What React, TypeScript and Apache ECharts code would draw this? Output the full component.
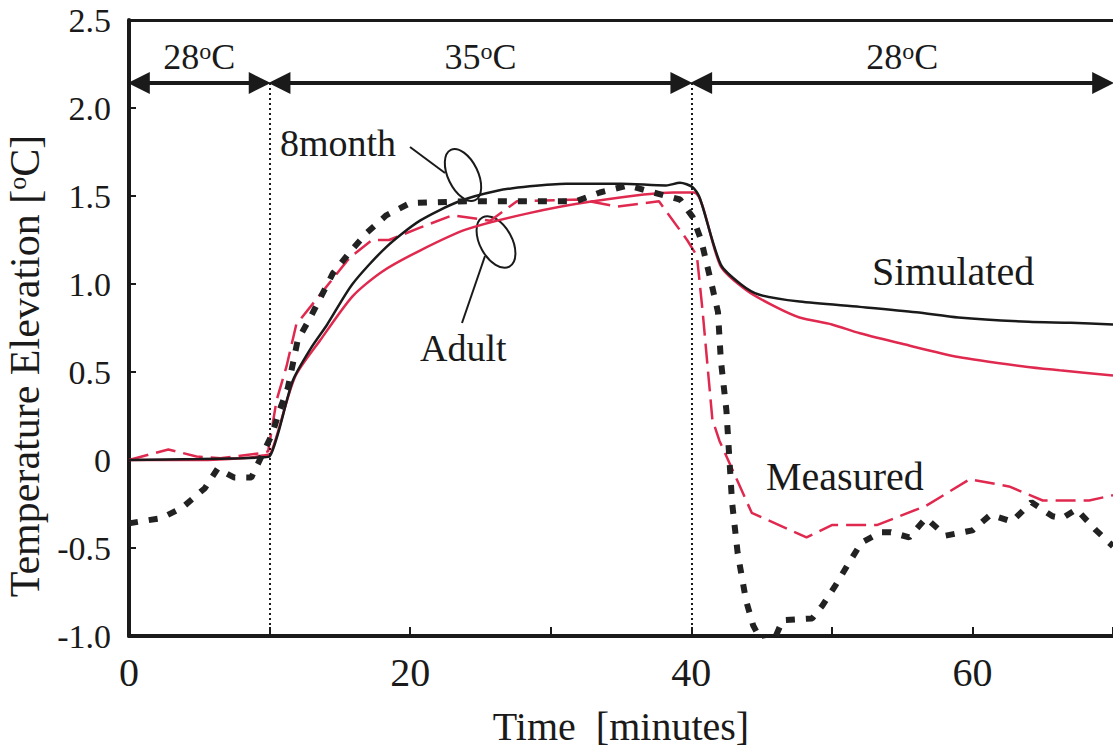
import React, { useEffect, useRef } from 'react';
import * as echarts from 'echarts';

const FONT = '"Liberation Serif", "Times New Roman", serif';
const RED = '#e0294f';
const BLACK = '#1a1a1a';

// Simulated, 8 month (black solid)
const sim8month: number[][] = [
  [0, 0], [5, 0.005], [8, 0.01], [9.5, 0.015], [10, 0.02], [10.6, 0.15], [11.65, 0.45], [12.9, 0.63],
  [14.1, 0.77], [15.9, 1.0], [18.3, 1.21], [20.7, 1.36], [23.5, 1.47], [26.2, 1.53], [28.5, 1.555],
  [31.1, 1.57], [35, 1.57], [38.2, 1.56], [39.2, 1.575], [40.1, 1.55], [40.6, 1.49], [42.1, 1.11],
  [43.5, 1.0], [44.8, 0.94], [47.7, 0.9], [52, 0.87], [56, 0.84], [59, 0.81], [64, 0.785], [67, 0.78], [70, 0.77],
];

// Simulated, adult (red solid)
const simAdult: number[][] = [
  [0, 0], [5, 0], [8, 0.01], [9.5, 0.025], [10.1, 0.04], [11.8, 0.47], [13.6, 0.68], [15.9, 0.93],
  [18, 1.07], [20.7, 1.19], [24, 1.31], [28.3, 1.4], [33, 1.47], [38.7, 1.52], [40.2, 1.52],
  [42.1, 1.1], [44, 0.96], [46, 0.87], [47.7, 0.81], [50, 0.77], [52, 0.72], [55, 0.66], [59, 0.585],
  [63.8, 0.53], [66.2, 0.51], [70, 0.48],
];

// Measured, 8 month (black thick dashed)
const meas8month: number[][] = [
  [0, -0.36], [2.3, -0.33], [3.8, -0.27], [5.4, -0.16], [6.3, -0.05], [7.5, -0.1], [8.7, -0.1],
  [10.2, 0.15], [10.7, 0.28], [11.3, 0.41], [12, 0.68], [12.9, 0.81], [14.5, 1.06], [15.7, 1.18],
  [16.9, 1.29], [18.3, 1.39], [20, 1.46], [24, 1.47], [31.8, 1.47], [33.5, 1.52], [35.5, 1.56],
  [37.3, 1.52], [39.2, 1.48], [40.1, 1.38], [40.7, 1.25], [41.5, 0.98], [41.9, 0.84], [42.1, 0.57],
  [42.5, 0.28], [42.7, 0.02], [42.9, -0.24], [43.3, -0.53], [43.9, -0.8], [44.4, -0.94], [45, -1.03],
  [45.8, -1.04], [46.5, -0.91], [48.6, -0.9], [49.3, -0.83], [50.2, -0.72], [51.1, -0.6], [52.1, -0.47],
  [53.5, -0.41], [54.2, -0.41], [55.5, -0.44], [56.7, -0.33], [58.1, -0.43], [60, -0.4], [61.3, -0.31],
  [62.8, -0.35], [64.2, -0.24], [65.7, -0.32], [66.4, -0.33], [67.4, -0.28], [68.8, -0.4], [70, -0.49],
];

// Measured, adult (red dashed)
const measAdult: number[][] = [
  [0, 0], [2.8, 0.06], [4.8, 0.02], [6.5, 0.01], [9.5, 0.04], [9.9, 0.05], [10.5, 0.34], [11.2, 0.53],
  [11.9, 0.77], [13.3, 0.91], [15.7, 1.15], [17.3, 1.25], [18.5, 1.25], [20.7, 1.32], [23, 1.39],
  [25.7, 1.36], [27.6, 1.47], [32.1, 1.48], [34.7, 1.44], [37.7, 1.47], [39.7, 1.25], [40.4, 1.16],
  [40.8, 0.85], [41.5, 0.23], [42, 0.11], [44.3, -0.3], [48.2, -0.44], [50, -0.37], [53.2, -0.37],
  [56.7, -0.26], [59.8, -0.11], [62.6, -0.15], [65, -0.23], [68.3, -0.23], [70, -0.2],
];

// Temperature phases: [start, end, temperature]
const phases: [number, number, string][] = [
  [0, 10, '28'],
  [10, 40, '35'],
  [40, 70, '28'],
];
const phaseArrowY = 2.142;
const phaseBoundaries = [10, 40];

const X_MIN = 0, X_MAX = 70, X_INT = 10;
const Y_MIN = -1.0, Y_MAX = 2.5, Y_INT = 0.5;

function buildOption() {
  const arrowGap = 0.7;
  const arrowData = phases.map(([a, b, t]) => [
    { name: t, coord: [a + arrowGap, phaseArrowY] },
    { coord: [b - arrowGap, phaseArrowY] },
  ]);
  const dottedData = phaseBoundaries.map((x) => [
    { coord: [x, phaseArrowY] },
    { coord: [x, Y_MIN] },
  ]);

  return {
    animation: false,
    backgroundColor: '#ffffff',
    grid: { left: 129, right: 0, top: 20, bottom: 118, containLabel: false, outerBoundsMode: 'none' },
    xAxis: [
      {
        type: 'value',
        min: X_MIN,
        max: X_MAX,
        interval: X_INT,
        name: 'Time  [minutes]',
        nameLocation: 'middle',
        nameGap: 70,
        nameTextStyle: { fontFamily: FONT, fontSize: 40, color: BLACK },
        axisLine: { show: true, onZero: false, lineStyle: { color: BLACK, width: 4 } },
        axisTick: { show: true, inside: true, length: 9, lineStyle: { color: BLACK, width: 2 } },
        axisLabel: {
          fontFamily: FONT,
          fontSize: 40,
          color: BLACK,
          margin: 16,
          formatter: (v: number) => (v % 20 === 0 && v < X_MAX ? String(v) : ''),
        },
        splitLine: { show: false },
      },
      {
        type: 'value',
        position: 'top',
        min: X_MIN,
        max: X_MAX,
        interval: X_INT,
        axisLine: { show: true, onZero: false, lineStyle: { color: BLACK, width: 3 } },
        axisTick: { show: false },
        axisLabel: { show: false },
        splitLine: { show: false },
      },
    ],
    yAxis: {
      type: 'value',
      min: Y_MIN,
      max: Y_MAX,
      interval: Y_INT,
      name: '{n|Temperature Elevation [}{s|o}{n|C]}',
      nameLocation: 'middle',
      nameGap: 82,
      nameRotate: 90,
      nameTextStyle: {
        fontFamily: FONT,
        fontSize: 42,
        color: BLACK,
        padding: [0, 76, 0, 0],
        rich: {
          n: { fontFamily: FONT, fontSize: 42, lineHeight: 42, color: BLACK },
          s: { fontFamily: FONT, fontSize: 26, lineHeight: 26, color: BLACK, verticalAlign: 'top' },
        },
      },
      axisLine: { show: true, onZero: false, lineStyle: { color: BLACK, width: 4 } },
      axisTick: { show: true, inside: true, length: 7, lineStyle: { color: BLACK, width: 2 } },
      axisLabel: {
        fontFamily: FONT,
        fontSize: 34,
        color: BLACK,
        margin: 18,
        formatter: (v: number) => (Math.abs(v) < 1e-9 ? '0' : v.toFixed(1)),
      },
      splitLine: { show: false },
    },
    series: [
      {
        name: 'Simulated Adult',
        type: 'line',
        data: simAdult,
        showSymbol: false,
        smooth: 0.25,
        lineStyle: { color: RED, width: 2.5 },
        z: 2,
      },
      {
        name: 'Measured Adult',
        type: 'line',
        data: measAdult,
        showSymbol: false,
        lineStyle: { color: RED, width: 2.5, type: [20, 8] },
        z: 3,
      },
      {
        name: 'Simulated 8month',
        type: 'line',
        data: sim8month,
        showSymbol: false,
        smooth: 0.25,
        lineStyle: { color: BLACK, width: 2.5 },
        z: 4,
      },
      {
        name: 'Measured 8month',
        type: 'line',
        data: meas8month,
        showSymbol: false,
        lineStyle: { color: '#222222', width: 6, type: [9, 11] },
        z: 5,
      },
      {
        name: 'phases',
        type: 'line',
        data: [],
        z: 6,
        markLine: {
          silent: true,
          symbol: ['triangle', 'triangle'],
          symbolSize: [22, 22],
          lineStyle: { color: BLACK, width: 4, type: 'solid' },
          label: {
            show: true,
            position: 'middle',
            distance: 8,
            formatter: (p: any) => `{n|${p.name}}{s|o}{n|C}`,
            rich: {
              n: { fontFamily: FONT, fontSize: 36, lineHeight: 36, color: BLACK },
              s: { fontFamily: FONT, fontSize: 24, lineHeight: 24, color: BLACK, verticalAlign: 'top' },
            },
          },
          data: arrowData,
        },
      },
      {
        name: 'boundaries',
        type: 'line',
        data: [],
        z: 1,
        markLine: {
          silent: true,
          symbol: ['none', 'none'],
          lineStyle: { color: BLACK, width: 2, type: [2, 3] },
          label: { show: false },
          data: dottedData,
        },
      },
    ],
    graphic: [
      {
        type: 'text',
        left: 280,
        top: 124,
        style: { text: '8month', fontFamily: FONT, fontSize: 38, fill: BLACK },
      },
      {
        type: 'text',
        left: 420,
        top: 329,
        style: { text: 'Adult', fontFamily: FONT, fontSize: 38, fill: BLACK },
      },
      {
        type: 'text',
        left: 872,
        top: 251,
        style: { text: 'Simulated', fontFamily: FONT, fontSize: 40, fill: BLACK },
      },
      {
        type: 'text',
        left: 766,
        top: 456,
        style: { text: 'Measured', fontFamily: FONT, fontSize: 40, fill: BLACK },
      },
      {
        type: 'line',
        shape: { x1: 410, y1: 147, x2: 445, y2: 173 },
        style: { stroke: BLACK, lineWidth: 2 },
      },
      {
        type: 'ellipse',
        x: 463,
        y: 175,
        rotation: 0.45,
        shape: { cx: 0, cy: 0, rx: 15, ry: 28 },
        style: { fill: 'none', stroke: BLACK, lineWidth: 2 },
      },
      {
        type: 'line',
        shape: { x1: 462, y1: 323, x2: 485, y2: 256 },
        style: { stroke: BLACK, lineWidth: 2 },
      },
      {
        type: 'ellipse',
        x: 496,
        y: 242,
        rotation: 0.5,
        shape: { cx: 0, cy: 0, rx: 16, ry: 28 },
        style: { fill: 'none', stroke: BLACK, lineWidth: 2 },
      },
    ],
  };
}

export default function App() {
  const ref = useRef<HTMLDivElement>(null);
  useEffect(() => {
    if (!ref.current) return;
    const chart = echarts.init(ref.current, null, { renderer: 'svg' });
    chart.setOption(buildOption() as any);
    return () => chart.dispose();
  }, []);
  return (
    <div
      ref={ref}
      style={{ position: 'absolute', left: 0, top: 0, width: 1113, height: 754, background: '#fff' }}
    />
  );
}
